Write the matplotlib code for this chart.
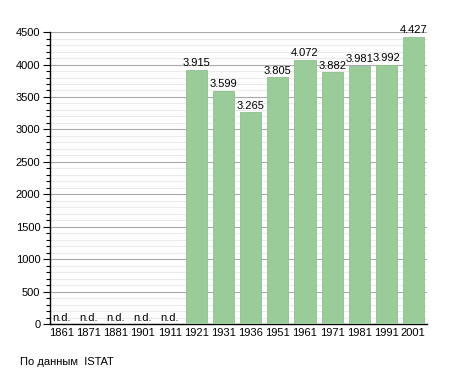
import numpy as np
import matplotlib.pyplot as plt
from matplotlib.ticker import MultipleLocator

years = ["1861", "1871", "1881", "1901", "1911", "1921", "1931", "1936",
         "1951", "1961", "1971", "1981", "1991", "2001"]
population = [None, None, None, None, None, 3915, 3599, 3265,
              3805, 4072, 3882, 3981, 3992, 4427]
source = "По данным  ISTAT"

plt.rcParams['font.family'] = ['Liberation Sans', 'DejaVu Sans']

fig = plt.figure(figsize=(4.55, 3.73), dpi=100)
ax = fig.add_axes([0.11, 0.131, 0.828, 0.783])

x = np.arange(len(years))
vals = [v if v is not None else 0 for v in population]
ax.bar(x, vals, width=0.78, color='#99cc99', edgecolor='#8fc08f', linewidth=0.6, zorder=3)

fs = 8
for i, v in enumerate(population):
    if v is None:
        ax.text(i, 20, "n.d.", ha='center', va='bottom', fontsize=fs, zorder=4)
    else:
        s = f"{v/1000:.3f}"
        ax.text(i, v + 25, s, ha='center', va='bottom', fontsize=fs, zorder=4)

ax.set_xlim(-0.42, 13.5)
ax.set_ylim(0, 4500)
ax.set_xticks(x)
ax.set_xticklabels(years, fontsize=fs)
ax.tick_params(axis='x', length=0, pad=3)
ax.yaxis.set_major_locator(MultipleLocator(500))
ax.yaxis.set_minor_locator(MultipleLocator(100))
ax.tick_params(axis='y', which='major', length=5, width=0.8, labelsize=fs, pad=2)
ax.tick_params(axis='y', which='minor', length=3, width=0.8)
ax.grid(axis='y', which='major', color='#aaaaaa', linewidth=0.8, zorder=0)
ax.grid(axis='y', which='minor', color='#ebebeb', linewidth=0.8, zorder=0)
ax.set_axisbelow(True)
for side in ['top', 'right']:
    ax.spines[side].set_visible(False)
ax.spines['left'].set_linewidth(1.0)
ax.spines['bottom'].set_linewidth(1.0)

fig.text(20 / 455, 1 - 362 / 373, source, fontsize=fs, va='center')

fig.savefig("out.png", dpi=100)
